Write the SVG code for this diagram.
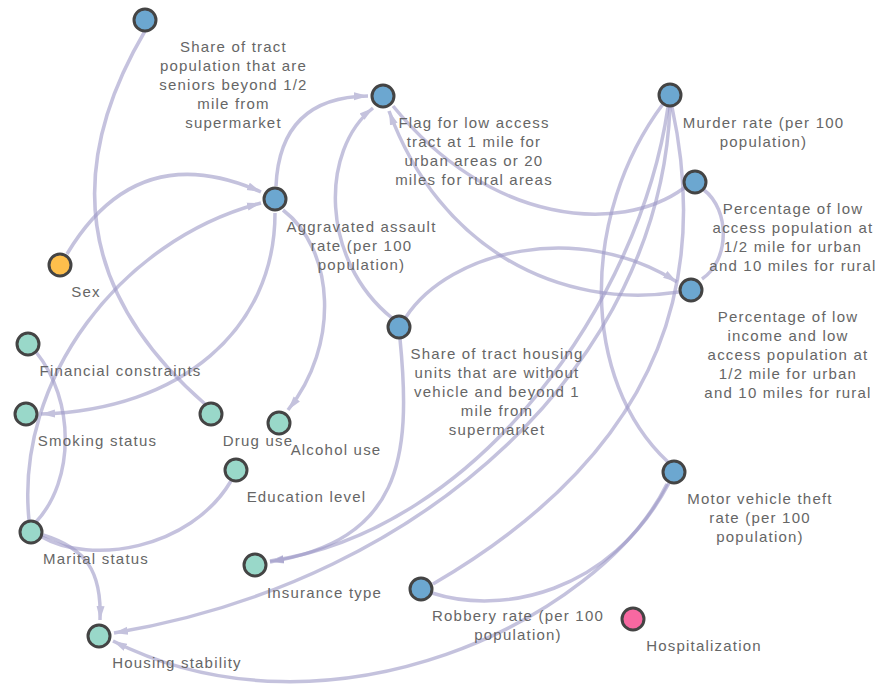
<svg xmlns="http://www.w3.org/2000/svg" width="880" height="687" viewBox="0 0 880 687">
<style>
.e{fill:none;stroke:#9e9ac8;stroke-width:3.5;opacity:0.6}
.a{marker-end:url(#arr)}
.n circle{stroke:#444;stroke-width:3}
.b{fill:#6ca7d0}.o{fill:#febf4c}.t{fill:#99d8c9}.p{fill:#f768a1}
text{font-family:"Liberation Sans",Arial,sans-serif;font-size:15px;letter-spacing:1.2px;fill:#666;text-anchor:middle}
</style>
<defs>
<marker id="arr" viewBox="0 -5 14 10" refX="14" refY="0" markerWidth="14" markerHeight="10" markerUnits="userSpaceOnUse" orient="auto">
<path d="M0,-4L14,0L0,4Z" fill="#9e9ac8"/>
</marker>
</defs>
<rect width="880" height="687" fill="#fff"/>
<g id="edges">
<path class="e" d="M145,31 Q20,243 205,404"/>
<path class="e a" d="M67,254 Q137,137 261,192"/>
<path class="e a" d="M29,520 C15,380 120,240 261,203"/>
<path class="e a" d="M276,186 Q280,97 368,96"/>
<path class="e a" d="M392,318 C320,260 320,150 373,108"/>
<path class="e a" d="M679,292 C560,310 440,250 389,111"/>
<path class="e" d="M684,188 C620,235 490,225 393,106"/>
<path class="e a" d="M406,317 C450,250 580,220 677,282"/>
<path class="e a" d="M400,339 C412,460 400,540 270,562"/>
<path class="e a" d="M283,210 C335,250 340,345 288,410"/>
<path class="e a" d="M275,213 C275,330 180,410 41,414"/>
<path class="e" d="M36,352 C75,400 75,480 36,522"/>
<path class="e" d="M42,537 C90,565 190,550 231,481"/>
<path class="e a" d="M43,535 C85,548 102,570 100,620"/>
<path class="e" d="M663,104 C580,215 580,380 668,462"/>
<path class="e" d="M672,107 C705,260 680,440 433,584"/>
<path class="e a" d="M668,107 C640,300 480,530 270,561"/>
<path class="e a" d="M670,107 C660,360 430,580 114,633"/>
<path class="e" d="M432,593 C500,615 610,595 669,483"/>
<path class="e a" d="M667,484 C600,620 330,750 113,641"/>
<path class="e" d="M704,190 C730,210 730,260 702,279"/>
</g>
<g id="n-seniors" class="n"><circle class="b" cx="145" cy="20" r="11"/><text x="233.5" y="52">Share of tract</text><text x="233.5" y="71">population that are</text><text x="233.5" y="90">seniors beyond 1/2</text><text x="233.5" y="109">mile from</text><text x="233.5" y="128">supermarket</text></g>
<g id="n-flag" class="n"><circle class="b" cx="383" cy="96" r="11"/><text x="474" y="127.5">Flag for low access</text><text x="474" y="146.5">tract at 1 mile for</text><text x="474" y="165.5">urban areas or 20</text><text x="474" y="184.5">miles for rural areas</text></g>
<g id="n-agg" class="n"><circle class="b" cx="275" cy="199" r="11"/><text x="361.5" y="231.5">Aggravated assault</text><text x="361.5" y="250.5">rate (per 100</text><text x="361.5" y="269.5">population)</text></g>
<g id="n-murder" class="n"><circle class="b" cx="670" cy="95" r="11"/><text x="763.5" y="127.5">Murder rate (per 100</text><text x="763.5" y="146.5">population)</text></g>
<g id="n-lowaccess" class="n"><circle class="b" cx="695" cy="182" r="11"/><text x="793" y="214">Percentage of low</text><text x="793" y="233">access population at</text><text x="793" y="252">1/2 mile for urban</text><text x="793" y="271">and 10 miles for rural</text></g>
<g id="n-lowincome" class="n"><circle class="b" cx="691" cy="290" r="11"/><text x="788" y="321.5">Percentage of low</text><text x="788" y="340.5">income and low</text><text x="788" y="359.5">access population at</text><text x="788" y="378.5">1/2 mile for urban</text><text x="788" y="397.5">and 10 miles for rural</text></g>
<g id="n-sex" class="n"><circle class="o" cx="60" cy="265" r="11"/><text x="86" y="297">Sex</text></g>
<g id="n-financial" class="n"><circle class="t" cx="28" cy="344" r="11"/><text x="120.5" y="376">Financial constraints</text></g>
<g id="n-smoking" class="n"><circle class="t" cx="26" cy="414" r="11"/><text x="97.5" y="446">Smoking status</text></g>
<g id="n-drug" class="n"><circle class="t" cx="211" cy="414" r="11"/><text x="258" y="446">Drug use</text></g>
<g id="n-alcohol" class="n"><circle class="t" cx="279" cy="423" r="11"/><text x="336" y="454.5">Alcohol use</text></g>
<g id="n-share" class="n"><circle class="b" cx="399" cy="327" r="11"/><text x="497" y="359">Share of tract housing</text><text x="497" y="378">units that are without</text><text x="497" y="397">vehicle and beyond 1</text><text x="497" y="416">mile from</text><text x="497" y="435">supermarket</text></g>
<g id="n-education" class="n"><circle class="t" cx="236" cy="470" r="11"/><text x="306.5" y="502">Education level</text></g>
<g id="n-marital" class="n"><circle class="t" cx="31" cy="532" r="11"/><text x="96" y="564">Marital status</text></g>
<g id="n-insurance" class="n"><circle class="t" cx="255" cy="565" r="11"/><text x="324.5" y="597.5">Insurance type</text></g>
<g id="n-housing" class="n"><circle class="t" cx="99" cy="636" r="11"/><text x="177" y="668">Housing stability</text></g>
<g id="n-robbery" class="n"><circle class="b" cx="421" cy="589" r="11"/><text x="518" y="621">Robbery rate (per 100</text><text x="518" y="640">population)</text></g>
<g id="n-motor" class="n"><circle class="b" cx="674" cy="472" r="11"/><text x="760" y="504">Motor vehicle theft</text><text x="760" y="523">rate (per 100</text><text x="760" y="542">population)</text></g>
<g id="n-hosp" class="n"><circle class="p" cx="633" cy="619" r="11"/><text x="704" y="651">Hospitalization</text></g>
</svg>
